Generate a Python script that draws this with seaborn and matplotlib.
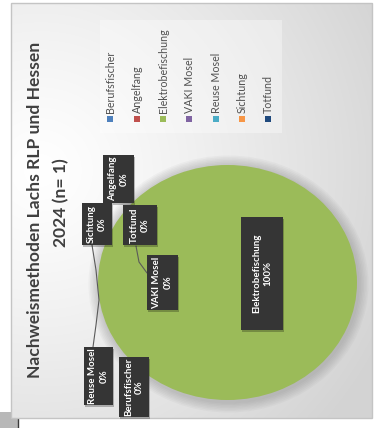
import numpy as np
import matplotlib
matplotlib.use("Agg")
import matplotlib.pyplot as plt
from matplotlib.patches import Rectangle, Ellipse
import seaborn as sns

# ---------------- data ----------------
categories = ["Berufsfischer", "Angelfang", "Elektrobefischung", "VAKI Mosel",
              "Reuse Mosel", "Sichtung", "Totfund"]
counts = [0, 0, 1, 0, 0, 0, 0]
percent_labels = ["0%", "0%", "100%", "0%", "0%", "0%", "0%"]
colors = ["#4F81BD", "#C0504D", "#9BBB59", "#8064A2", "#4BACC6", "#F79646", "#1F497D"]
title_lines = ["Nachweismethoden Lachs RLP und Hessen", "2024 (n= 1)"]

# ---------------- style ----------------
sns.set_theme(style="white")
plt.rcParams["font.family"] = ["Lato", "DejaVu Sans"]

W, H = 374, 428
fig = plt.figure(figsize=(W / 100, H / 100), dpi=100)
fig.patch.set_facecolor("white")
bg = fig.add_axes([0, 0, 1, 1])
bg.axis("off")

# clipped spreadsheet remnants (bottom-left)
bg.add_patch(Rectangle((0, 412), 18, 16, fc="#b8b8b8", ec="none", zorder=0))
bg.plot([18.5, 18.5], [418, 428], color="#3a3a3a", lw=1.0, zorder=0)

# chart panel with radial gradient
yy, xx = np.mgrid[0:H, 0:W]
d = np.clip(np.hypot(xx - 40, yy - 170) / 380, 0, 1)
c0 = np.array([1.0, 1.0, 1.0])
c1 = np.array([0.83, 0.83, 0.83])
img = c0 + (c1 - c0) * (d[..., None] ** 1.2)
im = bg.imshow(img, extent=(0, W, H, 0), zorder=1, interpolation="bilinear")
panel = Rectangle((11, 3), 361.5, 415, fc="none", ec="#c4c4c4", lw=1.0, zorder=2)
bg.add_patch(panel)
im.set_clip_path(panel)
bg.set_aspect("auto")
bg.set_xlim(0, W)
bg.set_ylim(H, 0)

# legend background
bg.add_patch(Rectangle((100, 20), 182, 113, fc="white", ec="none", alpha=0.35, zorder=2))

# pie shadow (soft)
for k in range(7):
    bg.add_patch(Ellipse((228.5, 284), 262 + 3 * k, 239 + 3 * k, fc="#707070",
                         ec="none", alpha=0.05, zorder=2))

# title (rotated)
bg.text(35.5, 210, title_lines[0], rotation=90, ha="center", va="center",
        fontsize=12.6, fontweight="bold", color="#3f3f3f", zorder=5)
bg.text(61, 203, title_lines[1], rotation=90, ha="center", va="center",
        fontsize=12.6, fontweight="bold", color="#3f3f3f", zorder=5)

# legend (rotated)
leg_x0, leg_dx = 110.5, 26.3
for i, (name, col) in enumerate(zip(categories, colors)):
    x = leg_x0 + i * leg_dx
    bg.add_patch(Rectangle((x - 3, 116), 6, 6, fc=col, ec="none", zorder=5))
    bg.text(x + 0.5, 113, name, rotation=90, ha="center", va="bottom",
            fontsize=7.7, color="#505050", zorder=5)

# pie
pax = fig.add_axes([98 / W, 1 - 400 / H, 259 / W, 235 / H])
pax.pie(counts, colors=colors, startangle=90, counterclock=False,
        wedgeprops=dict(linewidth=0))
pax.set_aspect("auto")
pax.set_xlim(-1, 1)
pax.set_ylim(-1, 1)
pax.axis("off")

# overlay axes for data labels on top of the pie
lax = fig.add_axes([0, 0, 1, 1])
lax.set_xlim(0, W)
lax.set_ylim(H, 0)
lax.axis("off")

label_boxes = {
    "Angelfang": (103, 155, 134, 203),
    "Sichtung": (82, 203, 112, 245),
    "Totfund": (123, 205, 157, 245),
    "VAKI Mosel": (147, 255, 178, 310),
    "Elektrobefischung": (241, 217, 283, 330),
    "Reuse Mosel": (84, 347, 113, 405),
    "Berufsfischer": (119, 357, 149, 417),
}

# leader lines
lax.plot([92, 96, 99, 96, 93], [245, 270, 300, 325, 347], color="#5a5a5a", lw=0.8, zorder=3)
lax.plot([136, 139, 147], [246, 262, 273], color="#5a5a5a", lw=0.8, zorder=3)

for name, pct in zip(categories, percent_labels):
    x0, y0, x1, y1 = label_boxes[name]
    lax.add_patch(Rectangle((x0 + 1.5, y0 + 1.5), x1 - x0, y1 - y0, fc="#000000",
                            ec="none", alpha=0.25, zorder=4))
    lax.add_patch(Rectangle((x0, y0), x1 - x0, y1 - y0, fc="#353535",
                            ec="none", zorder=5))
    lax.text((x0 + x1) / 2, (y0 + y1) / 2, f"{name}\n{pct}", rotation=90,
             ha="center", va="center", multialignment="center", linespacing=1.3,
             fontsize=7.0, fontweight="bold", color="white", zorder=6)

fig.savefig("out.png", dpi=100)
